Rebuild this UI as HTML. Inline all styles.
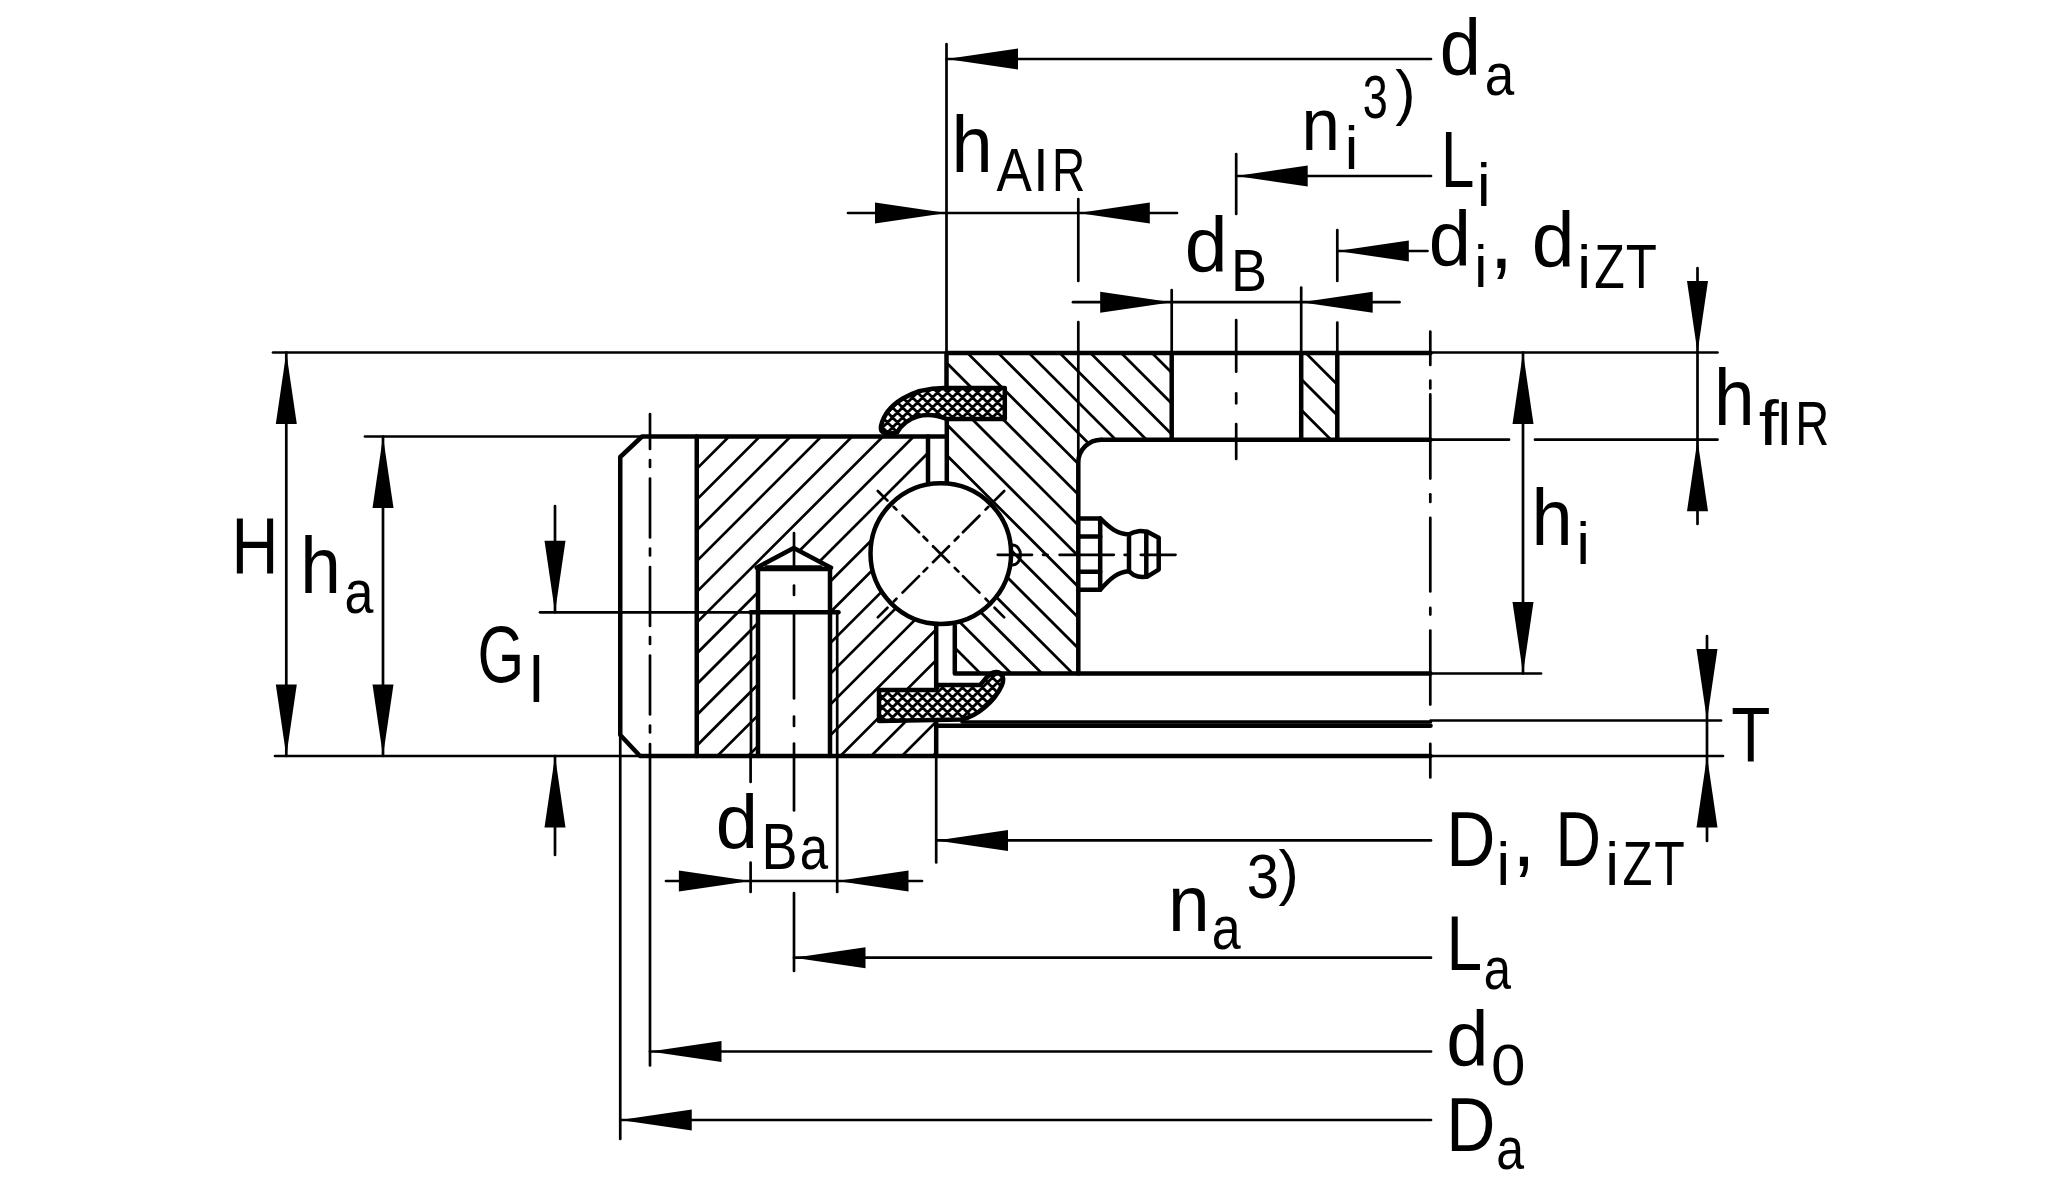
<!DOCTYPE html>
<html><head><meta charset="utf-8"><style>
html,body{margin:0;padding:0;background:#fff;width:2070px;height:1200px;overflow:hidden}
svg{display:block}
text{font-family:"Liberation Sans",sans-serif;font-size:100px;fill:#000;stroke:none}
</style></head><body>
<svg width="2070" height="1200" viewBox="0 0 2070 1200" stroke="#000" stroke-linecap="round" stroke-linejoin="round">
<rect width="2070" height="1200" fill="#fff" stroke="none"/>
<defs>
<clipPath id="cpo"><path d="M696.75,436.5 L928,436.5 L928,520 L936.2,600 L936.2,756 L696.75,756 Z"/></clipPath>
<clipPath id="cpi"><path d="M946.5,353 L1171.7,353 L1171.7,439.7 L1101.3,439.7 A23,23 0 0 0 1078.3,462.7 L1078.3,673.5 L954.8,673.5 L954.8,600 L946.5,520 Z M1301.2,353 L1337.3,353 L1337.3,439.7 L1301.2,439.7 Z"/></clipPath>
<clipPath id="cps1"><path d="M1004.8,388 L944,388 C912,388 886,404 881,426 C880,432 884,434 890,433.5 L897,432.5 C906,417 925,410 946.8,419 L1004.8,419 Z"/></clipPath>
<clipPath id="cps2"><path d="M879,690 L936,690 L938,685 L980,685 C986,679 989,672 996,672 C1003,672 1004.5,679 1002,685 C994,703 976,716 962,719.5 L879,721 Z"/></clipPath>
</defs>
<g clip-path="url(#cpo)"><path d="M690,383.29 L945,128.29 M690,414.06 L945,159.06 M690,444.83 L945,189.83 M690,475.6 L945,220.6 M690,506.37 L945,251.37 M690,537.14 L945,282.14 M690,567.91 L945,312.91 M690,598.68 L945,343.68 M690,629.45 L945,374.45 M690,660.22 L945,405.22 M690,690.99 L945,435.99 M690,721.76 L945,466.76 M690,752.53 L945,497.53 M690,783.3 L945,528.3 M690,814.07 L945,559.07 M690,844.84 L945,589.84 M690,875.61 L945,620.61 M690,906.38 L945,651.38 M690,937.15 L945,682.15 M690,967.92 L945,712.92 M690,998.69 L945,743.69 M690,1029.46 L945,774.46 M690,1060.23 L945,805.23" stroke-width="2.7" fill="none"/></g>
<g clip-path="url(#cpi)"><path d="M940,725.25 L1345,1130.25 M940,694.5 L1345,1099.5 M940,663.75 L1345,1068.75 M940,633 L1345,1038 M940,602.25 L1345,1007.25 M940,571.5 L1345,976.5 M940,540.75 L1345,945.75 M940,510 L1345,915 M940,479.25 L1345,884.25 M940,448.5 L1345,853.5 M940,417.75 L1345,822.75 M940,387 L1345,792 M940,356.25 L1345,761.25 M940,325.5 L1345,730.5 M940,294.75 L1345,699.75 M940,264 L1345,669 M940,233.25 L1345,638.25 M940,202.5 L1345,607.5 M940,171.75 L1345,576.75 M940,141 L1345,546 M940,110.25 L1345,515.25 M940,79.5 L1345,484.5 M940,48.75 L1345,453.75 M940,18 L1345,423 M940,-12.75 L1345,392.25 M940,-43.5 L1345,361.5 M940,-74.25 L1345,330.75 M940,-105 L1345,300" stroke-width="2.7" fill="none"/></g>
<circle cx="940.8" cy="553.6" r="71.3" fill="#fff" stroke="none"/>
<path d="M758,569 L756.7,567.7 L793.75,548 L831,567.7 L830,569 L830,760 L758,760 Z" stroke-width="0" fill="#fff" stroke="none"/>
<path d="M1004.8,388 L944,388 C912,388 886,404 881,426 C880,432 884,434 890,433.5 L897,432.5 C906,417 925,410 946.8,419 L1004.8,419 Z" stroke-width="0" fill="#fff" stroke="none"/>
<path d="M879,690 L936,690 L938,685 L980,685 C986,679 989,672 996,672 C1003,672 1004.5,679 1002,685 C994,703 976,716 962,719.5 L879,721 Z" stroke-width="0" fill="#fff" stroke="none"/>
<g clip-path="url(#cps1)"><path d="M875,365 L1010,230 M875,375 L1010,240 M875,385 L1010,250 M875,395 L1010,260 M875,405 L1010,270 M875,415 L1010,280 M875,425 L1010,290 M875,435 L1010,300 M875,445 L1010,310 M875,455 L1010,320 M875,465 L1010,330 M875,475 L1010,340 M875,485 L1010,350 M875,495 L1010,360 M875,505 L1010,370 M875,515 L1010,380 M875,525 L1010,390 M875,535 L1010,400 M875,545 L1010,410 M875,555 L1010,420 M875,565 L1010,430 M875,575 L1010,440 M875,585 L1010,450 M875,450 L1010,585 M875,440 L1010,575 M875,430 L1010,565 M875,420 L1010,555 M875,410 L1010,545 M875,400 L1010,535 M875,390 L1010,525 M875,380 L1010,515 M875,370 L1010,505 M875,360 L1010,495 M875,350 L1010,485 M875,340 L1010,475 M875,330 L1010,465 M875,320 L1010,455 M875,310 L1010,445 M875,300 L1010,435 M875,290 L1010,425 M875,280 L1010,415 M875,270 L1010,405 M875,260 L1010,395 M875,250 L1010,385 M875,240 L1010,375 M875,230 L1010,365" stroke-width="2.8" fill="none"/></g>
<g clip-path="url(#cps2)"><path d="M872,648 L1010,510 M872,658 L1010,520 M872,668 L1010,530 M872,678 L1010,540 M872,688 L1010,550 M872,698 L1010,560 M872,708 L1010,570 M872,718 L1010,580 M872,728 L1010,590 M872,738 L1010,600 M872,748 L1010,610 M872,758 L1010,620 M872,768 L1010,630 M872,778 L1010,640 M872,788 L1010,650 M872,798 L1010,660 M872,808 L1010,670 M872,818 L1010,680 M872,828 L1010,690 M872,838 L1010,700 M872,848 L1010,710 M872,858 L1010,720 M872,868 L1010,730 M872,878 L1010,740 M872,747 L1010,885 M872,737 L1010,875 M872,727 L1010,865 M872,717 L1010,855 M872,707 L1010,845 M872,697 L1010,835 M872,687 L1010,825 M872,677 L1010,815 M872,667 L1010,805 M872,657 L1010,795 M872,647 L1010,785 M872,637 L1010,775 M872,627 L1010,765 M872,617 L1010,755 M872,607 L1010,745 M872,597 L1010,735 M872,587 L1010,725 M872,577 L1010,715 M872,567 L1010,705 M872,557 L1010,695 M872,547 L1010,685 M872,537 L1010,675 M872,527 L1010,665 M872,517 L1010,655" stroke-width="2.8" fill="none"/></g>
<path d="M1004.8,388 L944,388 C912,388 886,404 881,426 C880,432 884,434 890,433.5 L897,432.5 C906,417 925,410 946.8,419 L1004.8,419 Z" stroke-width="4.5" fill="none"/>
<path d="M879,690 L936,690 L938,685 L980,685 C986,679 989,672 996,672 C1003,672 1004.5,679 1002,685 C994,703 976,716 962,719.5 L879,721 Z" stroke-width="4.5" fill="none"/>
<line x1="273" y1="352.5" x2="946.5" y2="352.5" stroke-width="2.7"/>
<line x1="1430.5" y1="352.5" x2="1717.5" y2="352.5" stroke-width="2.7"/>
<line x1="365" y1="436.5" x2="642" y2="436.5" stroke-width="2.7"/>
<line x1="275" y1="756" x2="640" y2="756" stroke-width="2.7"/>
<line x1="1430.5" y1="756" x2="1723" y2="756" stroke-width="2.7"/>
<line x1="540" y1="612.3" x2="751" y2="612.3" stroke-width="2.7"/>
<line x1="286.3" y1="352.5" x2="286.3" y2="756" stroke-width="2.7"/>
<path d="M286.3,352.5 L275.8,424 L296.8,424Z" fill="#000" stroke="none"/>
<path d="M286.3,756 L275.8,684.5 L296.8,684.5Z" fill="#000" stroke="none"/>
<line x1="383" y1="436.5" x2="383" y2="756" stroke-width="2.7"/>
<path d="M383,436.5 L372.5,508 L393.5,508Z" fill="#000" stroke="none"/>
<path d="M383,756 L372.5,684.5 L393.5,684.5Z" fill="#000" stroke="none"/>
<line x1="555" y1="506" x2="555" y2="612.3" stroke-width="2.7"/>
<path d="M555,612.3 L544.5,540.8 L565.5,540.8Z" fill="#000" stroke="none"/>
<line x1="555" y1="756" x2="555" y2="855" stroke-width="2.7"/>
<path d="M555,756 L544.5,827.5 L565.5,827.5Z" fill="#000" stroke="none"/>
<line x1="946.5" y1="44" x2="946.5" y2="353" stroke-width="2.7"/>
<line x1="946.5" y1="59" x2="1431" y2="59" stroke-width="2.7"/>
<path d="M946.5,59 L1018,48.5 L1018,69.5Z" fill="#000" stroke="none"/>
<line x1="848" y1="213" x2="1177" y2="213" stroke-width="2.7"/>
<path d="M946.5,213 L875,202.5 L875,223.5Z" fill="#000" stroke="none"/>
<path d="M1078.3,213 L1149.8,202.5 L1149.8,223.5Z" fill="#000" stroke="none"/>
<line x1="1078.3" y1="199" x2="1078.3" y2="281" stroke-width="2.7"/>
<line x1="1078.3" y1="322" x2="1078.3" y2="462" stroke-width="2.7"/>
<line x1="1073" y1="302.2" x2="1399.5" y2="302.2" stroke-width="2.7"/>
<path d="M1171.7,302.2 L1100.2,291.7 L1100.2,312.7Z" fill="#000" stroke="none"/>
<path d="M1301.2,302.2 L1372.7,291.7 L1372.7,312.7Z" fill="#000" stroke="none"/>
<line x1="1171.7" y1="290" x2="1171.7" y2="353" stroke-width="2.7"/>
<line x1="1301.2" y1="287.5" x2="1301.2" y2="353" stroke-width="2.7"/>
<line x1="1236.2" y1="176" x2="1431" y2="176" stroke-width="2.7"/>
<path d="M1236.2,176 L1307.7,165.5 L1307.7,186.5Z" fill="#000" stroke="none"/>
<line x1="1236.2" y1="154" x2="1236.2" y2="214" stroke-width="2.7"/>
<line x1="1236.2" y1="320" x2="1236.2" y2="371.7" stroke-width="2.7"/>
<line x1="1236.2" y1="393.3" x2="1236.2" y2="403.3" stroke-width="2.7"/>
<line x1="1236.2" y1="424" x2="1236.2" y2="459" stroke-width="2.7"/>
<line x1="1337.3" y1="251" x2="1427.5" y2="251" stroke-width="2.7"/>
<path d="M1337.3,251 L1408.8,240.5 L1408.8,261.5Z" fill="#000" stroke="none"/>
<line x1="1337.3" y1="230" x2="1337.3" y2="281" stroke-width="2.7"/>
<line x1="1337.3" y1="322.5" x2="1337.3" y2="353" stroke-width="2.7"/>
<line x1="1697.5" y1="268" x2="1697.5" y2="524" stroke-width="2.7"/>
<path d="M1697.5,352.5 L1687,281 L1708,281Z" fill="#000" stroke="none"/>
<path d="M1697.5,439.7 L1687,511.2 L1708,511.2Z" fill="#000" stroke="none"/>
<line x1="1430.5" y1="439.7" x2="1509" y2="439.7" stroke-width="2.7"/>
<line x1="1535" y1="439.7" x2="1717.5" y2="439.7" stroke-width="2.7"/>
<line x1="1523" y1="352.5" x2="1523" y2="673.5" stroke-width="2.7"/>
<path d="M1523,352.5 L1512.5,424 L1533.5,424Z" fill="#000" stroke="none"/>
<path d="M1523,673.5 L1512.5,602 L1533.5,602Z" fill="#000" stroke="none"/>
<line x1="1430.5" y1="673.5" x2="1541" y2="673.5" stroke-width="2.7"/>
<line x1="1707" y1="636" x2="1707" y2="841" stroke-width="2.7"/>
<path d="M1707,720.5 L1696.5,649 L1717.5,649Z" fill="#000" stroke="none"/>
<path d="M1707,756 L1696.5,827.5 L1717.5,827.5Z" fill="#000" stroke="none"/>
<line x1="1430.5" y1="720.5" x2="1721" y2="720.5" stroke-width="2.7"/>
<line x1="936.2" y1="723" x2="936.2" y2="862.5" stroke-width="2.7"/>
<line x1="936.5" y1="840.4" x2="1431" y2="840.4" stroke-width="2.7"/>
<path d="M936.5,840.4 L1008,829.9 L1008,850.9Z" fill="#000" stroke="none"/>
<line x1="666" y1="881" x2="922" y2="881" stroke-width="2.7"/>
<path d="M750.4,881 L678.9,870.5 L678.9,891.5Z" fill="#000" stroke="none"/>
<path d="M837,881 L908.5,870.5 L908.5,891.5Z" fill="#000" stroke="none"/>
<line x1="837.2" y1="612.3" x2="837.2" y2="892" stroke-width="2.7"/>
<line x1="751" y1="612.3" x2="751" y2="756" stroke-width="2.7"/>
<line x1="750.6" y1="756" x2="750.6" y2="782" stroke-width="2.7"/>
<line x1="750.6" y1="862.6" x2="750.6" y2="892" stroke-width="2.7"/>
<line x1="794" y1="893" x2="794" y2="971" stroke-width="2.7"/>
<line x1="794" y1="957.7" x2="1431" y2="957.7" stroke-width="2.7"/>
<path d="M794,957.7 L865.5,947.2 L865.5,968.2Z" fill="#000" stroke="none"/>
<line x1="650" y1="756" x2="650" y2="1065.5" stroke-width="2.7"/>
<line x1="650" y1="1051.5" x2="1431" y2="1051.5" stroke-width="2.7"/>
<path d="M650,1051.5 L721.5,1041 L721.5,1062Z" fill="#000" stroke="none"/>
<line x1="620.25" y1="735" x2="620.25" y2="1139" stroke-width="2.7"/>
<line x1="620.25" y1="1120" x2="1431" y2="1120" stroke-width="2.7"/>
<path d="M620.25,1120 L691.75,1109.5 L691.75,1130.5Z" fill="#000" stroke="none"/>
<line x1="650" y1="414" x2="650" y2="449" stroke-width="2.7"/>
<line x1="650" y1="460" x2="650" y2="467" stroke-width="2.7"/>
<line x1="650" y1="478.5" x2="650" y2="537.5" stroke-width="2.7"/>
<line x1="650" y1="548.5" x2="650" y2="555.5" stroke-width="2.7"/>
<line x1="650" y1="567" x2="650" y2="626" stroke-width="2.7"/>
<line x1="650" y1="637" x2="650" y2="644" stroke-width="2.7"/>
<line x1="650" y1="655.5" x2="650" y2="714.5" stroke-width="2.7"/>
<line x1="650" y1="725.5" x2="650" y2="732.5" stroke-width="2.7"/>
<line x1="650" y1="744" x2="650" y2="756" stroke-width="2.7"/>
<line x1="794" y1="533" x2="794" y2="567" stroke-width="2.7"/>
<line x1="794" y1="585.5" x2="794" y2="595" stroke-width="2.7"/>
<line x1="794" y1="614" x2="794" y2="698.5" stroke-width="2.7"/>
<line x1="794" y1="716.5" x2="794" y2="726" stroke-width="2.7"/>
<line x1="794" y1="743.5" x2="794" y2="810.5" stroke-width="2.7"/>
<line x1="1430.3" y1="331.7" x2="1430.3" y2="365" stroke-width="2.7"/>
<line x1="1430.3" y1="380.7" x2="1430.3" y2="388.5" stroke-width="2.7"/>
<line x1="1430.3" y1="394.4" x2="1430.3" y2="478.6" stroke-width="2.7"/>
<line x1="1430.3" y1="494.3" x2="1430.3" y2="502" stroke-width="2.7"/>
<line x1="1430.3" y1="517.8" x2="1430.3" y2="591.4" stroke-width="2.7"/>
<line x1="1430.3" y1="607.9" x2="1430.3" y2="614.6" stroke-width="2.7"/>
<line x1="1430.3" y1="630.6" x2="1430.3" y2="704.6" stroke-width="2.7"/>
<line x1="1430.3" y1="743.8" x2="1430.3" y2="777.5" stroke-width="2.7"/>
<line x1="997.75" y1="554.8" x2="1032" y2="554.8" stroke-width="2.7"/>
<line x1="1043" y1="554.8" x2="1047.5" y2="554.8" stroke-width="2.7"/>
<line x1="1059.6" y1="554.8" x2="1113.8" y2="554.8" stroke-width="2.7"/>
<line x1="1124.6" y1="554.8" x2="1128" y2="554.8" stroke-width="2.7"/>
<line x1="1140.8" y1="554.8" x2="1175.5" y2="554.8" stroke-width="2.7"/>
<line x1="933.01" y1="546.21" x2="948.99" y2="562.19" stroke-width="2.7"/>
<line x1="933.01" y1="562.19" x2="948.99" y2="546.21" stroke-width="2.7"/>
<line x1="954.72" y1="567.92" x2="958.47" y2="571.67" stroke-width="2.7"/>
<line x1="962.92" y1="576.12" x2="979.47" y2="592.67" stroke-width="2.7"/>
<line x1="985.55" y1="598.75" x2="988.38" y2="601.58" stroke-width="2.7"/>
<line x1="994.53" y1="607.73" x2="1004.22" y2="617.42" stroke-width="2.7"/>
<line x1="954.72" y1="540.48" x2="958.47" y2="536.73" stroke-width="2.7"/>
<line x1="962.92" y1="532.28" x2="979.47" y2="515.73" stroke-width="2.7"/>
<line x1="985.55" y1="509.65" x2="988.38" y2="506.82" stroke-width="2.7"/>
<line x1="994.53" y1="500.67" x2="1004.22" y2="490.98" stroke-width="2.7"/>
<line x1="927.28" y1="567.92" x2="923.53" y2="571.67" stroke-width="2.7"/>
<line x1="919.08" y1="576.12" x2="902.53" y2="592.67" stroke-width="2.7"/>
<line x1="896.45" y1="598.75" x2="893.62" y2="601.58" stroke-width="2.7"/>
<line x1="887.47" y1="607.73" x2="877.78" y2="617.42" stroke-width="2.7"/>
<line x1="927.28" y1="540.48" x2="923.53" y2="536.73" stroke-width="2.7"/>
<line x1="919.08" y1="532.28" x2="902.53" y2="515.73" stroke-width="2.7"/>
<line x1="896.45" y1="509.65" x2="893.62" y2="506.82" stroke-width="2.7"/>
<line x1="887.47" y1="500.67" x2="877.78" y2="490.98" stroke-width="2.7"/>
<path d="M928,481.5 L928,436.5 L642,436.5 L620.25,457 L620.25,735 L640,756 L1430.5,756" stroke-width="4.5" fill="none"/>
<line x1="928" y1="436.5" x2="946.5" y2="436.5" stroke-width="4.5"/>
<line x1="696.75" y1="436.5" x2="696.75" y2="756" stroke-width="4.5"/>
<line x1="936.2" y1="626" x2="936.2" y2="688" stroke-width="4.5"/>
<line x1="936.2" y1="723" x2="936.2" y2="756" stroke-width="4.5"/>
<path d="M758,756 L758,569 L830,569 L830,756" stroke-width="4.5" fill="none"/>
<path d="M756.7,567.7 L793.75,548 L831,567.7" stroke-width="4.5" fill="none"/>
<line x1="766" y1="566.7" x2="821" y2="566.7" stroke-width="3"/>
<line x1="750.5" y1="612.3" x2="838.5" y2="612.3" stroke-width="4.5"/>
<path d="M946.5,388 L946.5,353 L1430.5,353" stroke-width="4.5" fill="none"/>
<line x1="946.8" y1="419" x2="946.8" y2="482" stroke-width="4.5"/>
<path d="M1430.5,439.7 L1101.3,439.7" stroke-width="4.5" fill="none"/>
<path d="M1101.3,439.7 A23,23 0 0 0 1078.3,462.7 L1078.3,673.5" stroke-width="4.5" fill="none"/>
<path d="M954.8,626 L954.8,673.5 L1430.5,673.5" stroke-width="4.5" fill="none"/>
<line x1="1171.7" y1="353" x2="1171.7" y2="439.7" stroke-width="4.5"/>
<line x1="1301.2" y1="353" x2="1301.2" y2="439.7" stroke-width="4.5"/>
<line x1="1337.3" y1="353" x2="1337.3" y2="439.7" stroke-width="4.5"/>
<line x1="936.2" y1="725.7" x2="1430.5" y2="725.7" stroke-width="4.6"/>
<line x1="962" y1="722" x2="1430.5" y2="722" stroke-width="3.5"/>
<circle cx="940.8" cy="553.6" r="70.3" stroke-width="4.5" fill="none"/>
<path d="M1012.5,545 A8,10 0 0 1 1012.5,565" stroke-width="3" fill="none"/>
<path d="M1078.3,518.4 L1100.2,518.4 L1100.2,589.7 L1078.3,589.7" stroke-width="4.5" fill="none"/>
<line x1="1078.3" y1="536.6" x2="1100.2" y2="536.6" stroke-width="4.5"/>
<line x1="1078.3" y1="571.8" x2="1100.2" y2="571.8" stroke-width="4.5"/>
<path d="M1100.2,518.4 C1110,528 1117,534 1129,534.4 L1129,571.3 C1117,572 1110,579 1100.2,589.7" stroke-width="4.5" fill="none"/>
<path d="M1129,534.4 C1136,530 1142,531 1147.3,531.7 L1158.7,537.7 L1158.7,569.6 L1147.3,576.7 C1142,577 1136,578 1129,571.3" stroke-width="4.5" fill="none"/>
<line x1="1146.3" y1="531.7" x2="1146.3" y2="576.7" stroke-width="4.5"/>
<text transform="matrix(0.74 0 0 0.8 1439.87 75.22)">d</text>
<text transform="matrix(0.53 0 0 0.6 1484.77 95.41)">a</text>
<text transform="matrix(0.74 0 0 0.8 951.57 171.5)">h</text>
<text transform="matrix(0.53 0 0 0.62 996.6 190.8)">A</text>
<text transform="matrix(0.55 0 0 0.62 1033.15 190.8)">I</text>
<text transform="matrix(0.46 0 0 0.62 1052.06 190.8)">R</text>
<text transform="matrix(0.69 0 0 0.74 1301.39 149.5)">n</text>
<text transform="matrix(0.61 0 0 0.61 1344.69 169)">i</text>
<text transform="matrix(0.45 0 0 0.62 1362.77 118.39)">3</text>
<text transform="matrix(0.61 0 0 0.61 1395.28 113.33)">)</text>
<text transform="matrix(0.6 0 0 0.79 1441.07 187)">L</text>
<text transform="matrix(0.61 0 0 0.61 1477.02 206)">i</text>
<text transform="matrix(0.77 0 0 0.78 1184.78 272.24)">d</text>
<text transform="matrix(0.54 0 0 0.6 1231.03 291)">B</text>
<text transform="matrix(0.76 0 0 0.77 1428.83 266.25)">d</text>
<text transform="matrix(0.59 0 0 0.59 1474.17 287)">i</text>
<text transform="matrix(0.85 0 0 0.85 1489.42 268.11)">,</text>
<text transform="matrix(0.77 0 0 0.78 1531.78 267.24)">d</text>
<text transform="matrix(0.62 0 0 0.62 1577.28 287.75)">i</text>
<text transform="matrix(0.5 0 0 0.63 1594.17 287.75)">Z</text>
<text transform="matrix(0.51 0 0 0.63 1625.85 287.75)">T</text>
<text transform="matrix(0.73 0 0 0.79 1713.91 425)">h</text>
<text transform="matrix(0.72 0 0 0.63 1758.74 444.75)">f</text>
<text transform="matrix(0.56 0 0 0.63 1776.55 444.75)">I</text>
<text transform="matrix(0.47 0 0 0.63 1795.17 444.75)">R</text>
<text transform="matrix(0.65 0 0 0.79 231.5 572.8)">H</text>
<text transform="matrix(0.73 0 0 0.8 300.22 592.8)">h</text>
<text transform="matrix(0.52 0 0 0.61 344.5 612.9)">a</text>
<text transform="matrix(0.6 0 0 0.79 477.5 681.83)">G</text>
<text transform="matrix(0.64 0 0 0.64 529.17 702.1)">l</text>
<text transform="matrix(0.74 0 0 0.8 1531.56 545)">h</text>
<text transform="matrix(0.6 0 0 0.6 1576.38 564)">i</text>
<text transform="matrix(0.64 0 0 0.78 1731.26 762.3)">T</text>
<text transform="matrix(0.68 0 0 0.78 1446.16 866)">D</text>
<text transform="matrix(0.61 0 0 0.61 1496.62 885)">i</text>
<text transform="matrix(0.85 0 0 0.85 1512.02 865.81)">,</text>
<text transform="matrix(0.63 0 0 0.78 1555.49 866)">D</text>
<text transform="matrix(0.62 0 0 0.62 1605.33 885.25)">i</text>
<text transform="matrix(0.49 0 0 0.63 1622.44 885.25)">Z</text>
<text transform="matrix(0.5 0 0 0.63 1654.37 885.25)">T</text>
<text transform="matrix(0.75 0 0 0.79 1168 931)">n</text>
<text transform="matrix(0.52 0 0 0.61 1211.79 949.41)">a</text>
<text transform="matrix(0.58 0 0 0.62 1246.77 898.39)">3</text>
<text transform="matrix(0.61 0 0 0.61 1278.6 893.44)">)</text>
<text transform="matrix(0.64 0 0 0.77 1446.43 970)">L</text>
<text transform="matrix(0.49 0 0 0.6 1483.63 988.72)">a</text>
<text transform="matrix(0.76 0 0 0.77 1446.13 1065.95)">d</text>
<text transform="matrix(0.62 0 0 0.57 1490.9 1085.14)">0</text>
<text transform="matrix(0.68 0 0 0.76 1446.16 1150.7)">D</text>
<text transform="matrix(0.5 0 0 0.6 1496.17 1169.41)">a</text>
<text transform="matrix(0.76 0 0 0.76 715.63 847.76)">d</text>
<text transform="matrix(0.54 0 0 0.64 761.53 868.75)">B</text>
<text transform="matrix(0.51 0 0 0.61 799.85 869.15)">a</text>
</svg></body></html>
